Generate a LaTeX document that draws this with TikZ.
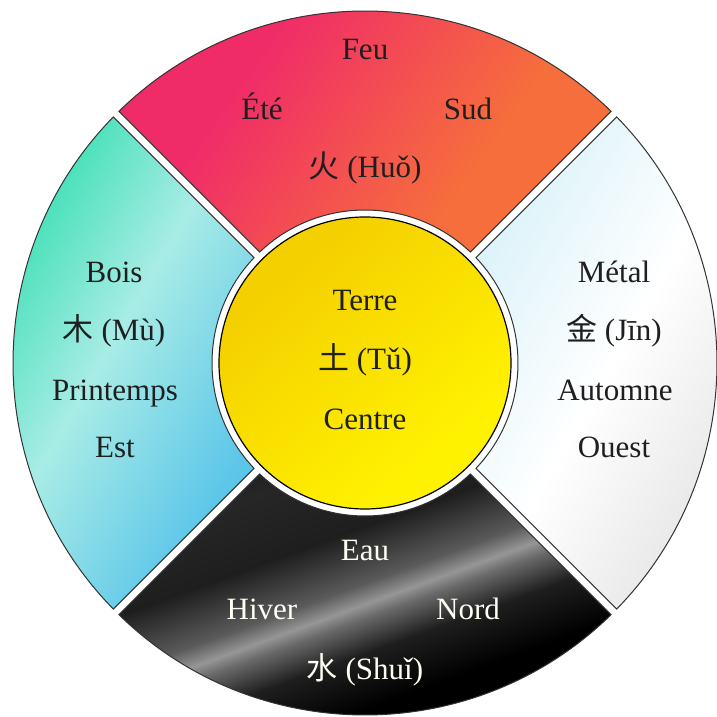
\documentclass[tikz,border=0pt]{standalone}
\usepackage{fontspec}
\setmainfont{Liberation Serif}
\newfontfamily\cjk{Noto Sans CJK SC}

% element colours
\definecolor{feupink}{RGB}{240,44,104}
\definecolor{feuorange}{RGB}{246,110,60}
\definecolor{boisteal}{RGB}{58,223,178}
\definecolor{boislight}{RGB}{168,236,230}
\definecolor{boisblue}{RGB}{74,189,234}
\definecolor{metalcyan}{RGB}{212,240,248}
\definecolor{metalgrey}{RGB}{222,222,222}
\definecolor{terregold}{RGB}{245,208,0}
\definecolor{terreyellow}{RGB}{255,242,0}
\definecolor{eaugrey}{RGB}{150,150,150}

\pgfdeclarehorizontalshading{feushade}{100bp}{color(0bp)=(feupink); color(35bp)=(feupink); color(65bp)=(feuorange); color(100bp)=(feuorange)}
\pgfdeclarehorizontalshading{boisshade}{100bp}{color(0bp)=(boisteal); color(30bp)=(boisteal!85!boislight); color(48bp)=(boislight); color(72bp)=(boisblue!80!boislight); color(100bp)=(boisblue)}
\pgfdeclarehorizontalshading{metalshade}{100bp}{color(0bp)=(metalcyan); color(20bp)=(metalcyan); color(50bp)=(white); color(80bp)=(metalgrey); color(100bp)=(metalgrey)}
\pgfdeclarehorizontalshading{terreshade}{100bp}{color(0bp)=(terregold); color(30bp)=(terregold); color(70bp)=(terreyellow); color(100bp)=(terreyellow)}
\pgfdeclareverticalshading{eaushade}{100bp}{color(0bp)=(black); color(36bp)=(black); color(44bp)=(black!80!eaugrey); color(49bp)=(black!30!eaugrey); color(51bp)=(eaugrey); color(54bp)=(black!40!eaugrey); color(62bp)=(black!80!eaugrey); color(72bp)=(black!85); color(100bp)=(black)}

% ring sector centred on angle #1, with a parallel gap to its neighbours
\newcommand\ringsector[1]{%
  ({#1-45+0.651}:352) arc[start angle={#1-45+0.651}, end angle={#1+45-0.651}, radius=352]
  -- ({#1+45-1.498}:153) arc[start angle={#1+45-1.498}, end angle={#1-45+1.498}, radius=153]
  -- cycle}

\tikzset{
  sectorline/.style={draw=black!80, line width=1pt},
  lbl/.style={font=\fontsize{31}{36}\selectfont, text=black!88, inner sep=0pt,
              text height=21pt, text depth=6pt, anchor=center},
  lblw/.style={lbl, text=white!96!yellow}
}

\begin{document}
\begin{tikzpicture}[x=1pt, y=1pt]
  \fill[white] (0,0) rectangle (717,717);
  \useasboundingbox (0,0) rectangle (717,717);
  \begin{scope}[shift={(365,354)}]
    % four outer sectors
    \shadedraw[sectorline, shading=feushade, shading angle=-35] \ringsector{90};
    \shadedraw[sectorline, shading=boisshade, shading angle=-30] \ringsector{180};
    \shadedraw[sectorline, shading=metalshade, shading angle=-30] \ringsector{0};
    \shadedraw[sectorline, shading=eaushade, shading angle=20] \ringsector{270};
    % central disk
    \shadedraw[draw=black, line width=1.2pt, shading=terreshade, shading angle=-50]
      (0,0) circle[radius=146];

    % Feu
    \node[lbl] (feu) at (0,311) {Feu};
    \node[lbl] (ete) at (-103,251) {Été};
    \node[lbl] (sud) at (103,251) {Sud};
    \node[lbl] (huo) at (0,193) {{\cjk 火} (Huǒ)};
    % Bois
    \node[lbl] (bois) at (-251,88) {Bois};
    \node[lbl] (mu) at (-251,30) {{\cjk 木} (Mù)};
    \node[lbl] (printemps) at (-250,-30) {Printemps};
    \node[lbl] (est) at (-250,-87) {Est};
    % Metal
    \node[lbl] (metal) at (249,88) {Métal};
    \node[lbl] (jin) at (249,30) {{\cjk 金} (Jīn)};
    \node[lbl] (automne) at (250,-30) {Automne};
    \node[lbl] (ouest) at (249,-87) {Ouest};
    % Terre
    \node[lbl] (terre) at (0,60) {Terre};
    \node[lbl] (tu) at (0,1) {{\cjk 土} (Tǔ)};
    \node[lbl] (centre) at (0,-59) {Centre};
    % Eau
    \node[lblw] (eau) at (0,-190) {Eau};
    \node[lblw] (hiver) at (-103,-249) {Hiver};
    \node[lblw] (nord) at (103,-249) {Nord};
    \node[lblw] (shui) at (0,-309) {{\cjk 水} (Shuǐ)};
  \end{scope}
\end{tikzpicture}
\end{document}
